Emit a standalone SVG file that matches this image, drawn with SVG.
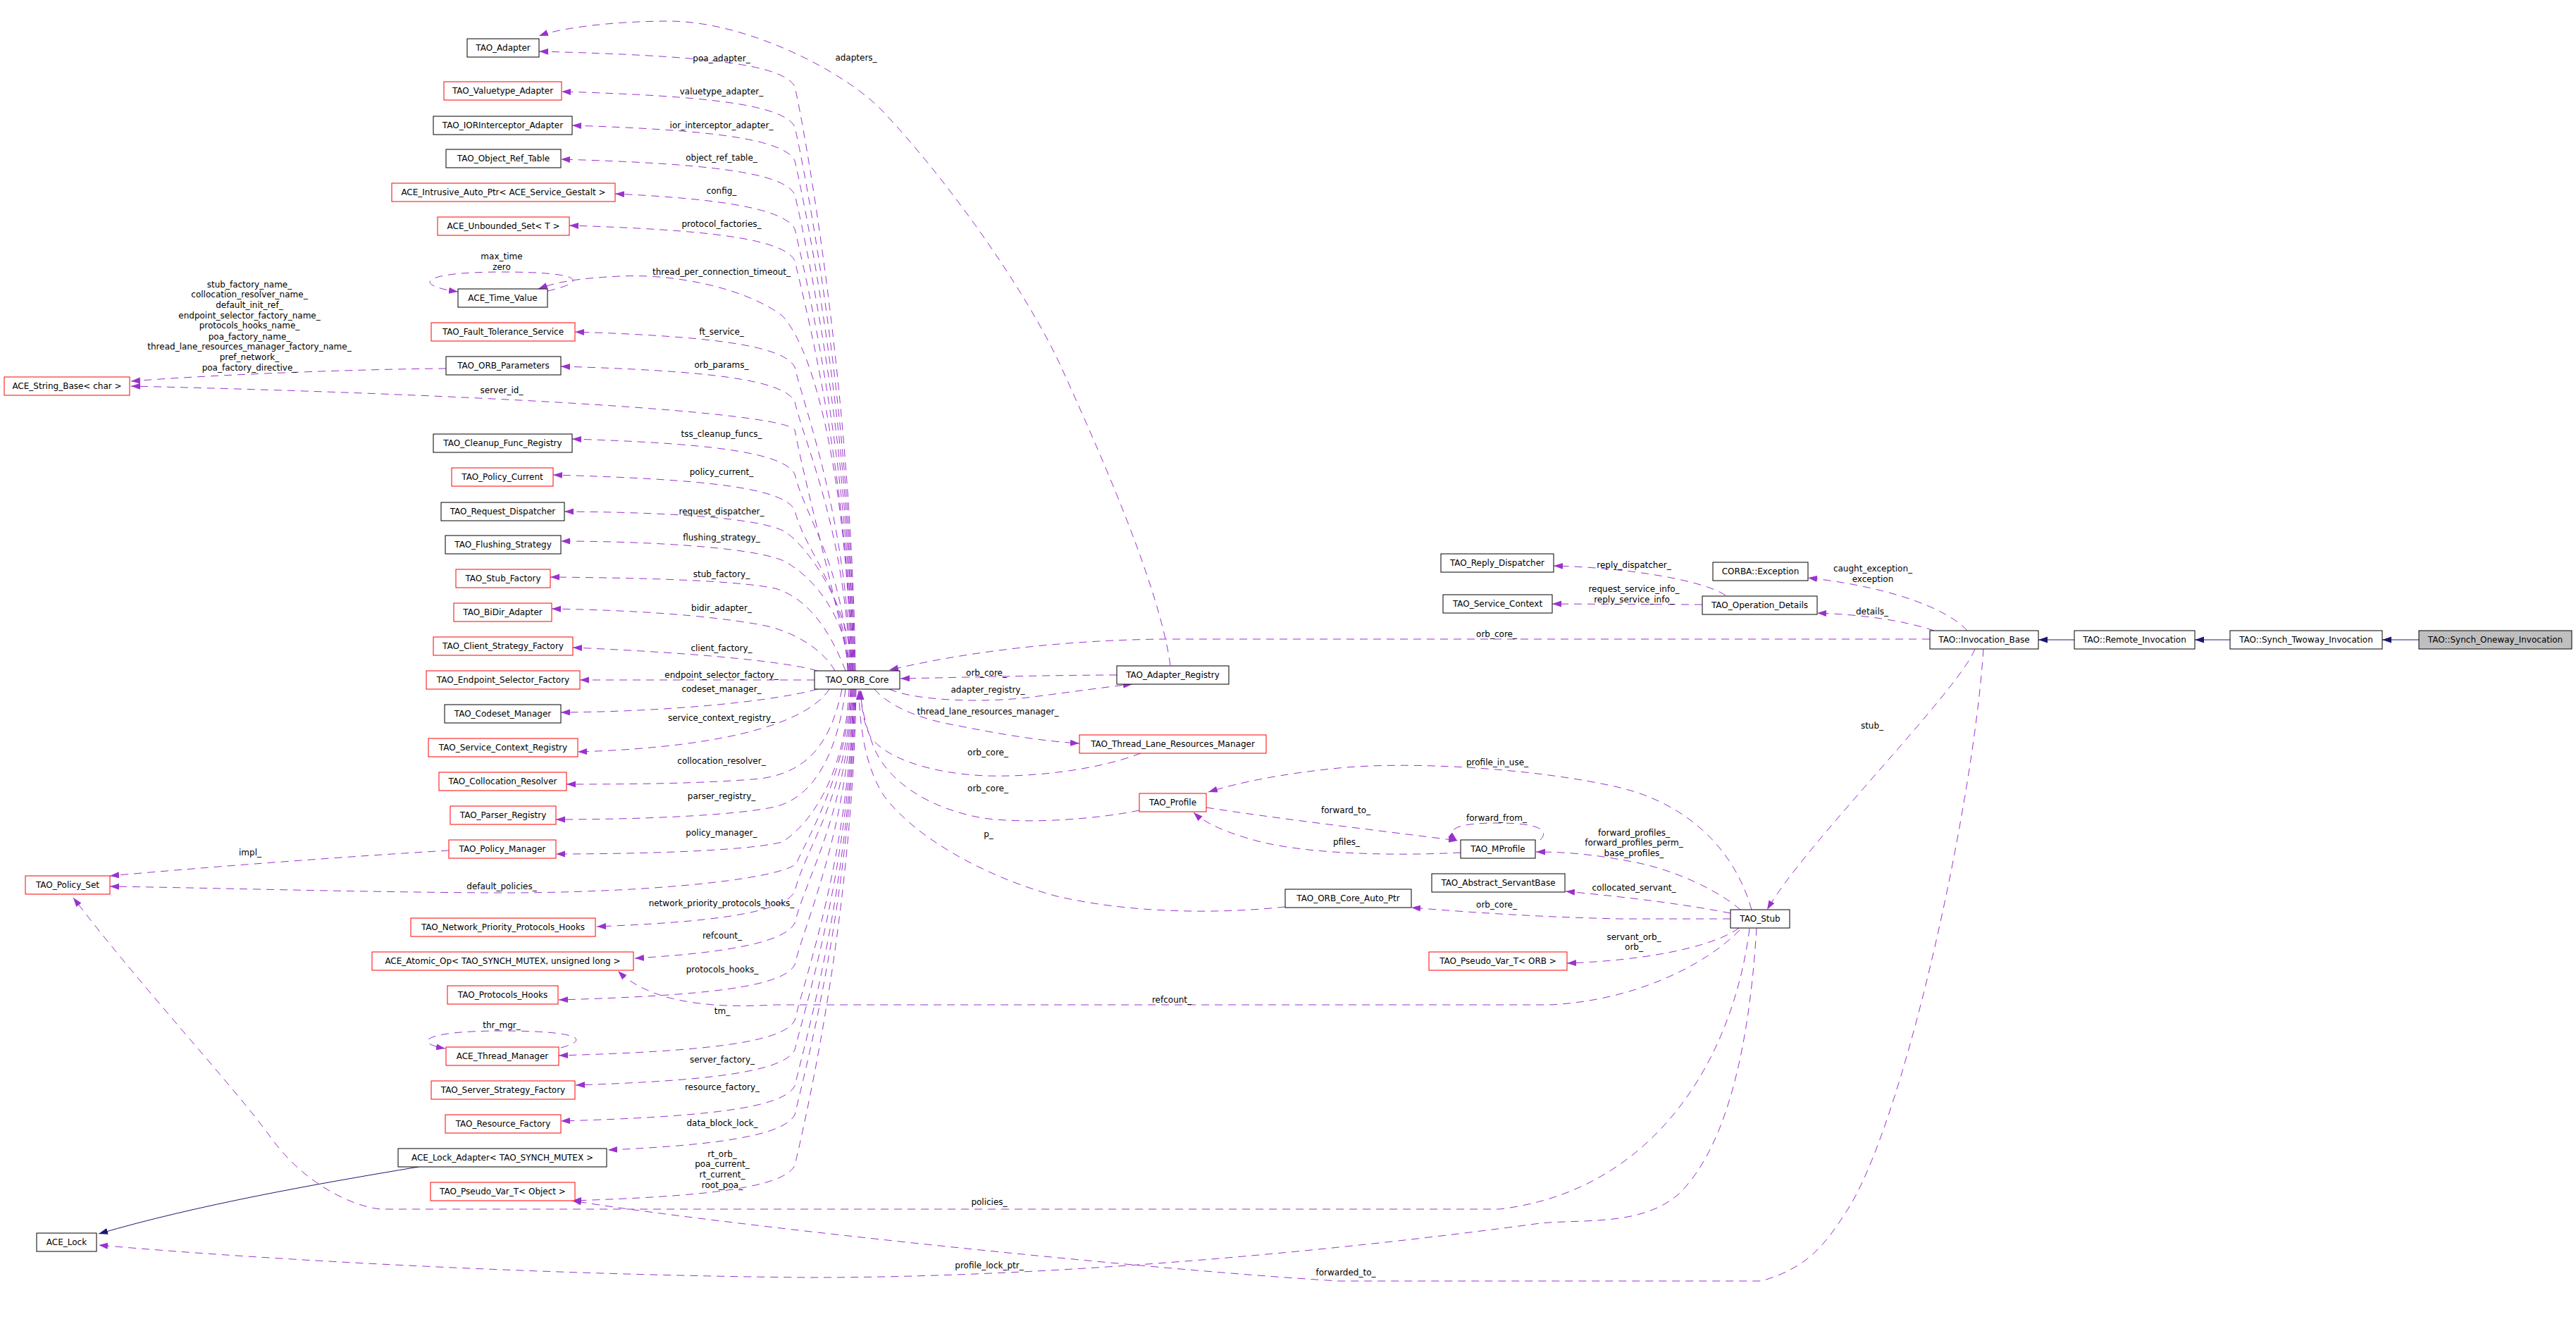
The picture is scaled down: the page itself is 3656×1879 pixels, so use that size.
<svg xmlns="http://www.w3.org/2000/svg" width="3656" height="1879" viewBox="0 0 3656 1879">
<style>
text{font-family:"DejaVu Sans","Liberation Sans",sans-serif;font-size:12px;fill:#000;text-anchor:middle}
.b{fill:#fff;stroke:#000;stroke-width:1}
.r{fill:#fff;stroke:#ff0000;stroke-width:1}
.g{fill:#bfbfbf;stroke:#000;stroke-width:1}
.e{fill:none;stroke:#9a32cd;stroke-width:1;stroke-dasharray:11,8;marker-end:url(#pa)}
.i{fill:none;stroke:#191970;stroke-width:1;marker-end:url(#na)}
</style>
<defs>
<marker id="pa" markerUnits="userSpaceOnUse" markerWidth="14" markerHeight="10" refX="13" refY="4.5" orient="auto"><path d="M0,0 L13,4.5 L0,9 z" fill="#9a32cd"/></marker>
<marker id="na" markerUnits="userSpaceOnUse" markerWidth="14" markerHeight="10" refX="13" refY="4.5" orient="auto"><path d="M0,0 L13,4.5 L0,9 z" fill="#191970"/></marker>
</defs>
<rect width="3656" height="1879" fill="#fff"/>
<g id="edges">
<path class="e" d="M1214,952 C1209,556 1142,183 1128,123 C1112,91 1000,79 765,73"/>
<path class="e" d="M1213,952 C1208,582 1142,240 1128,180 C1112,148 1000,136 797,130"/>
<path class="e" d="M1212,952 C1207,604 1142,288 1128,228 C1112,196 1000,184 812,178"/>
<path class="e" d="M1211,952 C1206,625 1142,336 1128,276 C1112,244 1000,232 796,226"/>
<path class="e" d="M1210,952 C1205,647 1142,385 1128,325 C1112,293 1000,281 873,275"/>
<path class="e" d="M1209,952 C1204,668 1142,430 1128,370 C1112,338 1000,326 808,320"/>
<path class="e" d="M1208,952 C1203,700 1160,500 1110,448 C1060,410 960,388 880,392 C820,395 790,400 764,410"/>
<path class="e" d="M1207,952 C1202,736 1142,581 1128,521 C1112,489 1000,477 816,471"/>
<path class="e" d="M1206,952 C1201,758 1142,630 1128,570 C1112,538 1000,526 796,520"/>
<path class="e" d="M1205,952 C1200,900 1145,700 1128,610 C1110,585 700,560 186,548"/>
<path class="e" d="M1204,952 C1199,804 1142,733 1128,673 C1112,641 1000,629 812,623"/>
<path class="e" d="M1203,952 C1198,827 1142,784 1128,724 C1112,692 1000,680 785,674"/>
<path class="e" d="M1210,952 C1205,860 1150,780 1115,755 C1080,735 950,727 801,726"/>
<path class="e" d="M1207,952 C1200,880 1160,820 1110,795 C1060,775 900,768 796,768"/>
<path class="e" d="M1200,952 C1180,900 1150,850 1100,835 C1040,823 900,820 781,819"/>
<path class="e" d="M1185,952 C1170,925 1130,895 1076,886 C1000,873 900,866 783,864"/>
<path class="e" d="M1160,952 C1120,940 1000,927 813,919"/>
<path class="e" d="M1156,965 L823,965"/>
<path class="e" d="M1160,978 C1100,995 950,1010 796,1011"/>
<path class="e" d="M1177,978 C1150,1020 1050,1060 820,1067"/>
<path class="e" d="M1195,978 C1180,1050 1150,1095 1080,1105 C1000,1112 900,1113 804,1113"/>
<path class="e" d="M1200,978 C1190,1060 1160,1130 1100,1145 C1040,1158 900,1163 789,1163"/>
<path class="e" d="M1205,978 C1200,1100 1150,1170 1110,1195 C1060,1208 900,1212 789,1212"/>
<path class="e" d="M1207,978 C1202,1100 1145,1190 1130,1226 C1100,1250 900,1268 700,1267 C500,1266 300,1260 156,1258"/>
<path class="e" d="M1208,978 C1203,1130 1142,1205 1128,1265 C1112,1297 1000,1309 847,1315"/>
<path class="e" d="M1209,978 C1204,1150 1142,1250 1128,1310 C1112,1342 1000,1354 901,1360"/>
<path class="e" d="M1210,978 C1205,1176 1142,1309 1128,1369 C1112,1401 1000,1413 793,1419"/>
<path class="e" d="M1211,978 C1206,1212 1142,1388 1128,1448 C1112,1480 1000,1492 793,1498"/>
<path class="e" d="M1212,978 C1207,1231 1142,1430 1128,1490 C1112,1522 1000,1534 817,1540"/>
<path class="e" d="M1213,978 C1208,1254 1142,1481 1128,1541 C1112,1573 1000,1585 796,1591"/>
<path class="e" d="M1214,978 C1209,1272 1142,1522 1128,1582 C1112,1614 1000,1626 863,1632"/>
<path class="e" d="M1215,978 C1210,1305 1142,1594 1128,1654 C1112,1686 1000,1698 812,1704"/>
<path class="e" d="M777,413 C835,400 830,386 712,386 C595,386 585,405 650,414"/>
<path class="e" d="M796,1487 C840,1475 820,1463 712,1463 C600,1463 585,1480 632,1488"/>
<path class="e" d="M633,523 C500,524 300,532 186,541"/>
<path class="e" d="M637,1207 C500,1215 300,1230 156,1243"/>
<path class="e" d="M1661,944 C1645,830 1560,640 1508,525 C1456,410 1340,250 1253,158 C1200,102 1060,30 949,30 C880,30 800,38 765,51"/>
<path class="e" d="M1585,958 C1500,958 1380,961 1278,963"/>
<path class="e" d="M1262,978 C1300,995 1400,998 1466,989 C1520,982 1570,975 1607,971"/>
<path class="e" d="M1241,978 C1260,1000 1300,1020 1360,1030 C1420,1042 1480,1052 1532,1055"/>
<path class="e" d="M1619,1069 C1560,1092 1470,1103 1400,1101 C1320,1098 1255,1075 1235,1045 C1225,1025 1222,1000 1222,980"/>
<path class="e" d="M1617,1150 C1560,1162 1460,1170 1395,1161 C1320,1148 1260,1110 1240,1060 C1228,1030 1222,1000 1221,980"/>
<path class="e" d="M1824,1287 C1720,1298 1600,1295 1500,1272 C1400,1245 1300,1190 1255,1130 C1228,1090 1220,1030 1219,980"/>
<path class="e" d="M2739,907 L1650,907 C1550,908 1400,918 1262,951"/>
<path class="e" d="M1712,1146 C1800,1160 1950,1178 2069,1193"/>
<path class="e" d="M2073,1210 C1980,1215 1860,1212 1790,1195 C1740,1182 1710,1168 1694,1153"/>
<path class="e" d="M2186,1192 C2198,1180 2190,1168 2124,1168 C2065,1168 2050,1178 2068,1193"/>
<path class="e" d="M2486,1291 C2460,1200 2390,1140 2300,1118 C2180,1090 2000,1080 1900,1090 C1820,1098 1760,1110 1715,1124"/>
<path class="e" d="M2470,1291 C2440,1265 2380,1235 2317,1223 C2260,1212 2220,1209 2180,1209"/>
<path class="e" d="M2456,1296 C2400,1285 2320,1274 2222,1265"/>
<path class="e" d="M2456,1304 L2300,1304 C2200,1302 2100,1296 2003,1288"/>
<path class="e" d="M2468,1317 C2440,1338 2360,1362 2224,1367"/>
<path class="e" d="M2469,1320 C2420,1370 2320,1420 2200,1426 L1100,1426 C1000,1432 920,1420 877,1378"/>
<path class="e" d="M2483,1318 C2460,1500 2350,1690 2128,1716 L540,1716 C500,1712 430,1680 382,1611 C330,1540 200,1400 104,1274"/>
<path class="e" d="M2493,1317 C2485,1450 2460,1620 2382,1695 C2330,1740 2250,1730 2186,1736 C1900,1775 1500,1813 1150,1813 C800,1810 400,1790 140,1767"/>
<path class="e" d="M2815,921 C2800,1150 2700,1600 2620,1720 C2585,1775 2560,1800 2500,1818 L1900,1818 C1600,1800 1000,1735 812,1704"/>
<path class="e" d="M2803,921 C2780,980 2560,1200 2508,1291"/>
<path class="e" d="M2792,895 C2770,870 2700,835 2566,820"/>
<path class="e" d="M2745,895 C2700,880 2640,872 2579,870"/>
<path class="e" d="M2449,845 C2420,825 2320,806 2205,803"/>
<path class="e" d="M2416,858 L2203,857"/>
<path class="i" d="M3433,908 L3381,908"/>
<path class="i" d="M3165,908 L3115,908"/>
<path class="i" d="M2944,908 L2893,908"/>
<path class="i" d="M594,1656 C450,1680 280,1710 140,1751"/>
</g>
<g id="edge-labels">
<text x="1024" y="87">poa_adapter_</text>
<text x="1024" y="134">valuetype_adapter_</text>
<text x="1024" y="182">ior_interceptor_adapter_</text>
<text x="1024" y="228">object_ref_table_</text>
<text x="1024" y="275">config_</text>
<text x="1024" y="322">protocol_factories_</text>
<text x="1024" y="390">thread_per_connection_timeout_</text>
<text x="1024" y="475">ft_service_</text>
<text x="1024" y="522">orb_params_</text>
<text x="712" y="558">server_id_</text>
<text x="1024" y="620">tss_cleanup_funcs_</text>
<text x="1024" y="674">policy_current_</text>
<text x="1024" y="730">request_dispatcher_</text>
<text x="1024" y="767">flushing_strategy_</text>
<text x="1024" y="819">stub_factory_</text>
<text x="1024" y="867">bidir_adapter_</text>
<text x="1024" y="924">client_factory_</text>
<text x="1024" y="962">endpoint_selector_factory_</text>
<text x="1024" y="982">codeset_manager_</text>
<text x="1024" y="1023">service_context_registry_</text>
<text x="1024" y="1084">collocation_resolver_</text>
<text x="1024" y="1134">parser_registry_</text>
<text x="1024" y="1186">policy_manager_</text>
<text x="355" y="1214">impl_</text>
<text x="712" y="1262">default_policies_</text>
<text x="1024" y="1286">network_priority_protocols_hooks_</text>
<text x="1025" y="1332">refcount_</text>
<text x="1025" y="1380">protocols_hooks_</text>
<text x="1025" y="1439">tm_</text>
<text x="712" y="1459">thr_mgr_</text>
<text x="1025" y="1508">server_factory_</text>
<text x="1025" y="1547">resource_factory_</text>
<text x="1025" y="1598">data_block_lock_</text>
<text x="1025" y="1642">rt_orb_</text>
<text x="1025" y="1656">poa_current_</text>
<text x="1025" y="1671">rt_current_</text>
<text x="1025" y="1686">root_poa_</text>
<text x="712" y="368">max_time</text>
<text x="712" y="383">zero</text>
<text x="354" y="408">stub_factory_name_</text>
<text x="354" y="422">collocation_resolver_name_</text>
<text x="354" y="437">default_init_ref_</text>
<text x="354" y="452">endpoint_selector_factory_name_</text>
<text x="354" y="466">protocols_hooks_name_</text>
<text x="354" y="482">poa_factory_name_</text>
<text x="354" y="496">thread_lane_resources_manager_factory_name_</text>
<text x="354" y="511">pref_network_</text>
<text x="354" y="526">poa_factory_directive_</text>
<text x="1215" y="86">adapters_</text>
<text x="1400" y="959">orb_core_</text>
<text x="1402" y="983">adapter_registry_</text>
<text x="1402" y="1014">thread_lane_resources_manager_</text>
<text x="1402" y="1072">orb_core_</text>
<text x="1402" y="1123">orb_core_</text>
<text x="1403" y="1188">p_</text>
<text x="2124" y="904">orb_core_</text>
<text x="2125" y="1086">profile_in_use_</text>
<text x="1910" y="1154">forward_to_</text>
<text x="2124" y="1165">forward_from_</text>
<text x="1911" y="1199">pfiles_</text>
<text x="2124" y="1288">orb_core_</text>
<text x="1663" y="1423">refcount_</text>
<text x="1404" y="1710">policies_</text>
<text x="1404" y="1800">profile_lock_ptr_</text>
<text x="1910" y="1810">forwarded_to_</text>
<text x="2319" y="806">reply_dispatcher_</text>
<text x="2319" y="840">request_service_info_</text>
<text x="2319" y="855">reply_service_info_</text>
<text x="2658" y="811">caught_exception_</text>
<text x="2658" y="826">exception</text>
<text x="2657" y="872">details_</text>
<text x="2657" y="1034">stub_</text>
<text x="2319" y="1186">forward_profiles_</text>
<text x="2319" y="1200">forward_profiles_perm_</text>
<text x="2319" y="1215">base_profiles_</text>
<text x="2319" y="1264">collocated_servant_</text>
<text x="2319" y="1334">servant_orb_</text>
<text x="2319" y="1348">orb_</text>
</g>
<g id="n1"><rect class="b" x="663" y="55" width="102" height="26"/><text x="714" y="72">TAO_Adapter</text></g>
<g id="n2"><rect class="r" x="630" y="116" width="167" height="26"/><text x="713.5" y="133">TAO_Valuetype_Adapter</text></g>
<g id="n3"><rect class="b" x="615" y="165" width="197" height="26"/><text x="713.5" y="182">TAO_IORInterceptor_Adapter</text></g>
<g id="n4"><rect class="b" x="633" y="212" width="163" height="26"/><text x="714.5" y="229">TAO_Object_Ref_Table</text></g>
<g id="n5"><rect class="r" x="556" y="260" width="317" height="26"/><text x="714.5" y="277">ACE_Intrusive_Auto_Ptr&lt; ACE_Service_Gestalt &gt;</text></g>
<g id="n6"><rect class="r" x="621" y="308" width="187" height="26"/><text x="714.5" y="325">ACE_Unbounded_Set&lt; T &gt;</text></g>
<g id="n7"><rect class="b" x="650" y="410" width="127" height="26"/><text x="713.5" y="427">ACE_Time_Value</text></g>
<g id="n8"><rect class="r" x="612" y="458" width="204" height="26"/><text x="714" y="475">TAO_Fault_Tolerance_Service</text></g>
<g id="n9"><rect class="b" x="633" y="506" width="163" height="26"/><text x="714.5" y="523">TAO_ORB_Parameters</text></g>
<g id="n10"><rect class="r" x="6" y="535" width="178" height="26"/><text x="95" y="552">ACE_String_Base&lt; char &gt;</text></g>
<g id="n11"><rect class="b" x="615" y="616" width="197" height="26"/><text x="713.5" y="633">TAO_Cleanup_Func_Registry</text></g>
<g id="n12"><rect class="r" x="641" y="664" width="144" height="26"/><text x="713" y="681">TAO_Policy_Current</text></g>
<g id="n13"><rect class="b" x="626" y="713" width="175" height="26"/><text x="713.5" y="730">TAO_Request_Dispatcher</text></g>
<g id="n14"><rect class="b" x="632" y="760" width="164" height="26"/><text x="714" y="777">TAO_Flushing_Strategy</text></g>
<g id="n15"><rect class="r" x="647" y="808" width="134" height="26"/><text x="714" y="825">TAO_Stub_Factory</text></g>
<g id="n16"><rect class="r" x="644" y="856" width="139" height="26"/><text x="713.5" y="873">TAO_BiDir_Adapter</text></g>
<g id="n17"><rect class="r" x="615" y="904" width="198" height="26"/><text x="714" y="921">TAO_Client_Strategy_Factory</text></g>
<g id="n18"><rect class="r" x="605" y="952" width="218" height="26"/><text x="714" y="969">TAO_Endpoint_Selector_Factory</text></g>
<g id="n19"><rect class="b" x="631" y="1000" width="165" height="26"/><text x="713.5" y="1017">TAO_Codeset_Manager</text></g>
<g id="n20"><rect class="r" x="608" y="1048" width="212" height="26"/><text x="714" y="1065">TAO_Service_Context_Registry</text></g>
<g id="n21"><rect class="r" x="623" y="1096" width="181" height="26"/><text x="713.5" y="1113">TAO_Collocation_Resolver</text></g>
<g id="n22"><rect class="r" x="639" y="1144" width="150" height="26"/><text x="714" y="1161">TAO_Parser_Registry</text></g>
<g id="n23"><rect class="r" x="637" y="1192" width="152" height="26"/><text x="713" y="1209">TAO_Policy_Manager</text></g>
<g id="n24"><rect class="r" x="36" y="1243" width="120" height="26"/><text x="96" y="1260">TAO_Policy_Set</text></g>
<g id="n25"><rect class="r" x="583" y="1303" width="262" height="26"/><text x="714" y="1320">TAO_Network_Priority_Protocols_Hooks</text></g>
<g id="n26"><rect class="r" x="528" y="1351" width="371" height="26"/><text x="713.5" y="1368">ACE_Atomic_Op&lt; TAO_SYNCH_MUTEX, unsigned long &gt;</text></g>
<g id="n27"><rect class="r" x="635" y="1399" width="157" height="26"/><text x="713.5" y="1416">TAO_Protocols_Hooks</text></g>
<g id="n28"><rect class="r" x="633" y="1486" width="160" height="26"/><text x="713" y="1503">ACE_Thread_Manager</text></g>
<g id="n29"><rect class="r" x="612" y="1534" width="204" height="26"/><text x="714" y="1551">TAO_Server_Strategy_Factory</text></g>
<g id="n30"><rect class="r" x="632" y="1582" width="164" height="26"/><text x="714" y="1599">TAO_Resource_Factory</text></g>
<g id="n31"><rect class="b" x="565" y="1630" width="296" height="26"/><text x="713" y="1647">ACE_Lock_Adapter&lt; TAO_SYNCH_MUTEX &gt;</text></g>
<g id="n32"><rect class="r" x="611" y="1678" width="205" height="26"/><text x="713.5" y="1695">TAO_Pseudo_Var_T&lt; Object &gt;</text></g>
<g id="n33"><rect class="b" x="52" y="1750" width="85" height="26"/><text x="94.5" y="1767">ACE_Lock</text></g>
<g id="n34"><rect class="b" x="1156" y="952" width="121" height="26"/><text x="1216.5" y="969">TAO_ORB_Core</text></g>
<g id="n35"><rect class="b" x="1585" y="945" width="159" height="26"/><text x="1664.5" y="962">TAO_Adapter_Registry</text></g>
<g id="n36"><rect class="r" x="1532" y="1043" width="265" height="26"/><text x="1664.5" y="1060">TAO_Thread_Lane_Resources_Manager</text></g>
<g id="n37"><rect class="r" x="1617" y="1126" width="95" height="26"/><text x="1664.5" y="1143">TAO_Profile</text></g>
<g id="n38"><rect class="b" x="2073" y="1192" width="106" height="26"/><text x="2126" y="1209">TAO_MProfile</text></g>
<g id="n39"><rect class="b" x="2032" y="1240" width="189" height="26"/><text x="2126.5" y="1257">TAO_Abstract_ServantBase</text></g>
<g id="n40"><rect class="b" x="1824" y="1262" width="179" height="26"/><text x="1913.5" y="1279">TAO_ORB_Core_Auto_Ptr</text></g>
<g id="n41"><rect class="r" x="2028" y="1351" width="196" height="26"/><text x="2126" y="1368">TAO_Pseudo_Var_T&lt; ORB &gt;</text></g>
<g id="n42"><rect class="b" x="2456" y="1291" width="84" height="26"/><text x="2498" y="1308">TAO_Stub</text></g>
<g id="n43"><rect class="b" x="2045" y="786" width="160" height="26"/><text x="2125" y="803">TAO_Reply_Dispatcher</text></g>
<g id="n44"><rect class="b" x="2048" y="844" width="155" height="26"/><text x="2125.5" y="861">TAO_Service_Context</text></g>
<g id="n45"><rect class="b" x="2431" y="798" width="135" height="26"/><text x="2498.5" y="815">CORBA::Exception</text></g>
<g id="n46"><rect class="b" x="2416" y="846" width="163" height="26"/><text x="2497.5" y="863">TAO_Operation_Details</text></g>
<g id="n47"><rect class="b" x="2739" y="895" width="154" height="26"/><text x="2816" y="912">TAO::Invocation_Base</text></g>
<g id="n48"><rect class="b" x="2944" y="895" width="171" height="26"/><text x="3029.5" y="912">TAO::Remote_Invocation</text></g>
<g id="n49"><rect class="b" x="3165" y="895" width="216" height="26"/><text x="3273" y="912">TAO::Synch_Twoway_Invocation</text></g>
<g id="n50"><rect class="g" x="3433" y="895" width="217" height="26"/><text x="3541.5" y="912">TAO::Synch_Oneway_Invocation</text></g>
</svg>
